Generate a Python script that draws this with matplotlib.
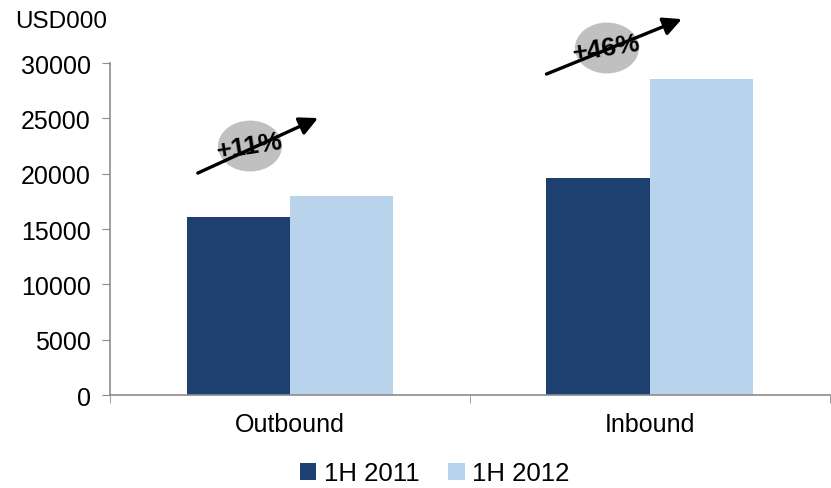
import numpy as np
import matplotlib
matplotlib.use("Agg")
import matplotlib.pyplot as plt
from matplotlib.patches import Ellipse

categories = ["Outbound", "Inbound"]
series_names = ["1H 2011", "1H 2012"]
values_2011 = [16100, 19600]
values_2012 = [17950, 28550]
growth_labels = ["+11%", "+46%"]

colors = ["#1d4071", "#b9d3ec"]

plt.rcParams["font.family"] = ["Liberation Sans", "DejaVu Sans"]

fig = plt.figure(figsize=(8.31, 4.89), dpi=100)
ax = fig.add_axes([0.1324, 0.19, 0.866, 0.679])

x = np.arange(len(categories))
width = 0.287
ax.bar(x - width / 2, values_2011, width, color=colors[0], label=series_names[0])
ax.bar(x + width / 2, values_2012, width, color=colors[1], label=series_names[1])

ax.set_xlim(-0.5, 1.5)
ax.set_ylim(0, 30000)
ax.set_yticks(np.arange(0, 30001, 5000))
ax.set_xticks(x)
ax.set_xticklabels(categories)
ax.set_xticks([-0.5, 0.5, 1.5], minor=True)

for side in ["top", "right"]:
    ax.spines[side].set_visible(False)
for side in ["left", "bottom"]:
    ax.spines[side].set_color("#8c8c8c")
    ax.spines[side].set_linewidth(1.2)

ax.tick_params(axis="y", direction="out", length=6, color="#8c8c8c", labelsize=18, pad=8)
ax.tick_params(axis="x", which="major", length=0, labelsize=18, pad=12)
ax.tick_params(axis="x", which="minor", direction="out", length=6, color="#8c8c8c")

fig.text(0.018, 0.956, "USD000", fontsize=17.5, va="center", ha="left")

# growth arrows with grey ovals
arrows = [((-0.256, 20060), (0.078, 25030)), ((0.713, 29006), (1.089, 33970))]
centers = [(-0.111, 22500), (0.881, 31360)]
for (start, end), center, label in zip(arrows, centers, growth_labels):
    oval = Ellipse(center, 0.178, 4600, facecolor="#c0c0c0", edgecolor="none",
                   clip_on=False, zorder=3)
    ax.add_patch(oval)
    ax.annotate("", xy=end, xytext=start,
                arrowprops=dict(arrowstyle="-|>,head_length=1.1,head_width=0.55",
                                color="black", lw=2.4, shrinkA=0, shrinkB=0),
                annotation_clip=False, zorder=4)
    ax.text(center[0], center[1], label, fontsize=19, fontweight="bold",
            ha="center", va="center", rotation=9, zorder=5, clip_on=False)

ax.legend(loc="center", bbox_to_anchor=(0.451, -0.235), ncol=2, frameon=False,
          fontsize=18.5, handlelength=0.65, handleheight=0.65, handletextpad=0.3,
          columnspacing=1.1)

fig.savefig("out.png", dpi=100)
